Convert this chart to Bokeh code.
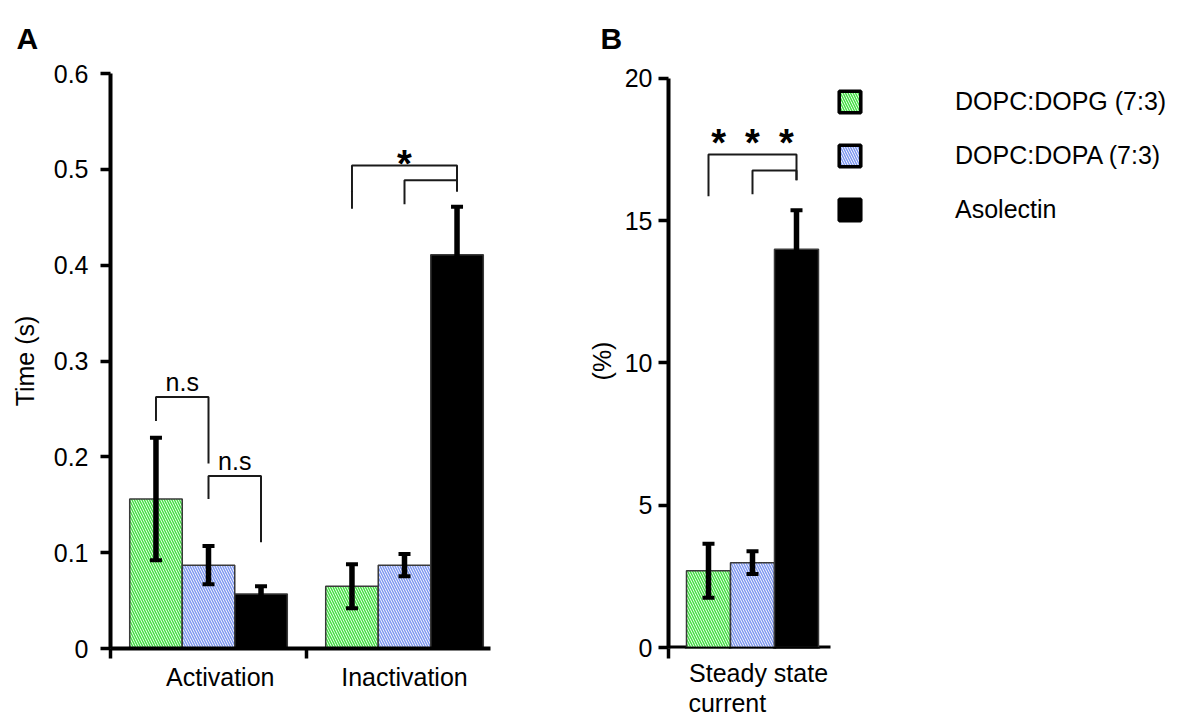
from bokeh.plotting import figure
from bokeh.models import (ColumnDataSource, Whisker, TeeHead, FixedTicker, Legend,
                          LegendItem, Range1d)
from bokeh.layouts import row
from bokeh.embed import file_html
from bokeh.resources import INLINE
from bokeh.core.properties import value

FONT = "Liberation Sans"

# ---------------- data ----------------
series = ["DOPC:DOPG (7:3)", "DOPC:DOPA (7:3)", "Asolectin"]

groups_A = ["Activation", "Inactivation"]
dopg_A = [0.156, 0.065]
dopg_A_err = [0.064, 0.023]
dopa_A = [0.087, 0.087]
dopa_A_err = [0.020, 0.0115]
aso_A = [0.057, 0.411]
aso_A_err = [0.008, 0.050]

# trailing no-break spaces keep the second line flush left under the first
groups_B = ["Steady state\ncurrent" + "\u00a0" * 9]
dopg_B = [2.7]
dopg_B_err = [0.95]
dopa_B = [2.98]
dopa_B_err = [0.40]
aso_B = [14.0]
aso_B_err = [1.37]

yticks_A = [0, 0.1, 0.2, 0.3, 0.4, 0.5, 0.6]
yticks_B = [0, 5, 10, 15, 20]

# significance brackets: (group, bar i, bar j, top, left end, right end, label, label y)
brackets_A = [
    (0, 0, 1, 0.2625, 0.2375, 0.193, "n.s", 0.278),
    (0, 1, 2, 0.180, 0.156, 0.111, "n.s", 0.196),
    (1, 0, 2, 0.504, 0.459, 0.477, "*", 0.506),
    (1, 1, 2, 0.4885, 0.4635, 0.477, "", 0.0),
]
brackets_B = [
    (0, 0, 2, 17.33, 15.86, 16.42, "*\u2002*\u2002*", 17.75),
    (0, 1, 2, 16.77, 15.93, 16.42, "", 0.0),
]

# ---------------- styles ----------------
GREEN = "#44e044"
BLUE = "#7f98f0"
fills = ["white", "white", "black"]
hatch_colors = [GREEN, BLUE, "black"]
hatch_patterns = ["left_diagonal_line", "left_diagonal_line", None]


def style_axes(p, ylabel, label_standoff, tick_standoff, title, title_offset):
    p.outline_line_color = None
    p.xgrid.grid_line_color = None
    p.ygrid.grid_line_color = None
    p.background_fill_color = "white"
    p.border_fill_color = "white"
    p.title.text = title
    p.title.text_font = FONT
    p.title.text_font_size = "30px"
    p.title.text_font_style = "bold"
    p.title.text_color = "black"
    p.title.align = "left"
    p.title.vertical_align = "bottom"
    p.title.offset = title_offset
    p.title.standoff = 38
    for ax in (p.xaxis[0], p.yaxis[0]):
        ax.axis_line_width = 4
        ax.axis_line_color = "black"
        ax.major_label_text_font = FONT
        ax.major_label_text_color = "black"
    ya = p.yaxis[0]
    ya.major_label_text_font_size = "25px"
    ya.major_tick_out = 10
    ya.major_tick_in = 0
    ya.major_tick_line_width = 3.5
    ya.minor_tick_line_color = None
    ya.minor_tick_out = 0
    ya.minor_tick_in = 0
    ya.major_label_standoff = tick_standoff
    ya.axis_label = ylabel
    ya.axis_label_text_font = FONT
    ya.axis_label_text_font_size = "25px"
    ya.axis_label_text_font_style = "normal"
    ya.axis_label_text_color = "black"
    ya.axis_label_standoff = label_standoff
    xa = p.xaxis[0]
    xa.major_label_text_font_size = "25px"
    xa.major_tick_line_color = None
    xa.major_tick_out = 0
    xa.major_tick_in = 0
    xa.minor_tick_out = 10
    xa.minor_tick_in = 0
    xa.minor_tick_line_width = 3.5
    xa.minor_tick_line_color = "black"
    xa.major_label_standoff = 4


def draw_panel(p, centers, width, vals, errs, brackets, star_size):
    offsets = [-width, 0.0, width]
    xs_all, srcs = [], []
    for k in range(3):
        xs = [c + offsets[k] for c in centers]
        xs_all.append(xs)
        src = ColumnDataSource(dict(x=xs, top=vals[k]))
        srcs.append(src)
        p.vbar(x="x", top="top", width=width, bottom=0, source=src,
               fill_color=fills[k], hatch_pattern=hatch_patterns[k],
               hatch_color=hatch_colors[k], hatch_scale=5, hatch_weight=1.5,
               line_color="#3a3a3a", line_width=1.5)
    # error bars
    ex, eu, el = [], [], []
    for k in range(3):
        for g in range(len(centers)):
            ex.append(xs_all[k][g])
            eu.append(vals[k][g] + errs[k][g])
            el.append(vals[k][g] - errs[k][g])
    esrc = ColumnDataSource(dict(x=ex, upper=eu, lower=el))
    p.add_layout(Whisker(source=esrc, base="x", upper="upper", lower="lower",
                         line_width=5.5, line_color="black", level="overlay",
                         upper_head=TeeHead(size=12, line_width=4, line_color="black"),
                         lower_head=TeeHead(size=12, line_width=4, line_color="black")))
    # brackets
    bxs, bys = [], []
    for (g, i, j, top, yl, yr, lab, ly) in brackets:
        x1 = xs_all[i][g]
        x2 = xs_all[j][g]
        bxs.append([x1, x1, x2, x2])
        bys.append([yl, top, top, yr])
        if lab:
            is_star = "*" in lab
            p.text(x=[(x1 + x2) / 2], y=[ly], text=[lab],
                   text_font=value(FONT),
                   text_font_size=star_size if is_star else "25px",
                   text_font_style="bold" if is_star else "normal",
                   text_align="center", text_baseline="alphabetic",
                   text_color="black")
    p.multi_line(xs=bxs, ys=bys, line_color="#1a1a1a", line_width=2)
    return srcs


# ---------------- panel A ----------------
slot_px = 196.0
pA = figure(width=580, height=722, x_range=Range1d(0, 380 / slot_px), y_range=Range1d(0, 0.6),
            output_backend="svg", toolbar_location=None,
            min_border_left=110, min_border_right=90, min_border_top=72, min_border_bottom=74)
style_axes(pA, "Time (s)", 12, 12, "A", -94)
centers_A = [0.5, 1.5]
label_pos_A = [0.56, 1.5]
pA.yaxis[0].ticker = FixedTicker(ticks=yticks_A)
pA.yaxis[0].major_label_overrides = {0: "0"}
pA.xaxis[0].ticker = FixedTicker(ticks=label_pos_A, minor_ticks=[0, 1])
pA.xaxis[0].major_label_overrides = {label_pos_A[i]: groups_A[i] for i in range(2)}
draw_panel(pA, centers_A, 0.268, [dopg_A, dopa_A, aso_A], [dopg_A_err, dopa_A_err, aso_A_err],
           brackets_A, "38px")

# ---------------- panel B ----------------
# x unit = the 162 px long x axis; the frame continues to the right to hold the legend
unit_px = 162.0
frame_w = 504
px_per_y = 28.5
pB = figure(width=602, height=722, x_range=Range1d(0, frame_w / unit_px),
            y_range=Range1d(-1 / px_per_y, 20 + 5 / px_per_y),
            output_backend="svg", toolbar_location=None,
            min_border_left=88, min_border_right=602 - 88 - frame_w,
            min_border_top=72, min_border_bottom=74)
style_axes(pB, "(%)", 6, 6, "B", -68)
pB.yaxis[0].bounds = (-1 / px_per_y, 20)
xb = pB.xaxis[0]
xb.axis_line_color = None
xb.major_label_standoff = 0
xb.axis_label_standoff = 0
xb.major_label_text_line_height = 1.08
wB = 0.2716
centers_B = [0.5185]
label_pos_B = [0.556]
pB.yaxis[0].ticker = FixedTicker(ticks=yticks_B)
xb.ticker = FixedTicker(ticks=label_pos_B, minor_ticks=[0])
xb.major_label_overrides = {label_pos_B[0]: groups_B[0]}
# x axis baseline at y = 0 spanning the one-category axis
pB.segment(x0=[0], y0=[0], x1=[1], y1=[0], line_color="black", line_width=4)
srcs_B = draw_panel(pB, centers_B, wB, [dopg_B, dopa_B, aso_B],
                    [dopg_B_err, dopa_B_err, aso_B_err], brackets_B, "38px")

# legend: legend-only renderers mapped onto an off-screen range, bold outlines
pB.extra_y_ranges = {"legend_only": Range1d(1000, 1001)}
items = []
for k in range(3):
    r = pB.vbar(x="x", top="top", width=wB, source=srcs_B[k], y_range_name="legend_only",
                fill_color=fills[k], hatch_pattern=hatch_patterns[k],
                hatch_color=hatch_colors[k], hatch_scale=5, hatch_weight=1.5,
                line_color="black", line_width=3.5)
    items.append(LegendItem(label=series[k], renderers=[r]))
legend = Legend(items=items, location=(168, 424), glyph_width=27, glyph_height=27,
                label_standoff=92, spacing=25, label_text_font=FONT,
                label_text_font_size="25px", label_text_color="black",
                border_line_color=None, background_fill_alpha=0,
                margin=0, padding=0)
pB.add_layout(legend)

layout = row(pA, pB)
open("out.html", "w").write(file_html(layout, INLINE))
